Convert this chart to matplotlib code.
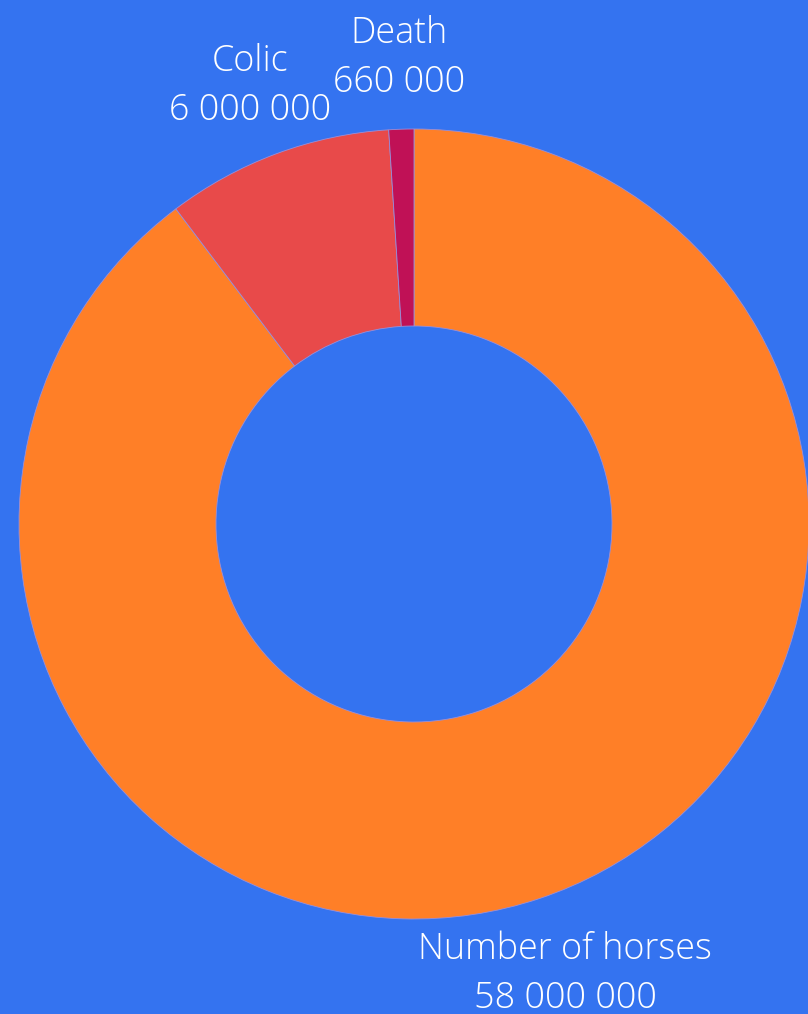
import matplotlib.pyplot as plt

# данные
labels = ['Number of horses', 'Colic', 'Death']
values = [58000000, 6000000, 660000]
colors = ['#FF7F27', '#E84A4A', '#C01156']
bg = '#3473F0'

def fmt(v):
    return f'{v:,}'.replace(',', ' ')

W, H = 808, 1014
fig = plt.figure(figsize=(W / 100, H / 100), dpi=100, facecolor=bg)
ax = fig.add_axes([0, 0, 1, 1])
ax.set_facecolor(bg)

cx, cy, r = 414, H - 524, 395
ax.pie(values, colors=colors, startangle=90, counterclock=False,
       center=(cx, cy), radius=r, frame=True,
       wedgeprops=dict(width=r - 198, edgecolor='#9a8fd8', linewidth=0.6))
ax.set_xlim(0, W)
ax.set_ylim(0, H)
ax.axis('off')

# подписи
label_pos = [(565, 974), (250, 86), (399, 58)]
for name, v, (x, y) in zip(labels, values, label_pos):
    ax.text(x, H - y, f'{name}\n{fmt(v)}', ha='center', va='center',
            color='white', fontsize=25.8, fontfamily='Open Sans',
            fontweight='light', linespacing=1.4)

fig.savefig('out.png', dpi=100, facecolor=bg)
